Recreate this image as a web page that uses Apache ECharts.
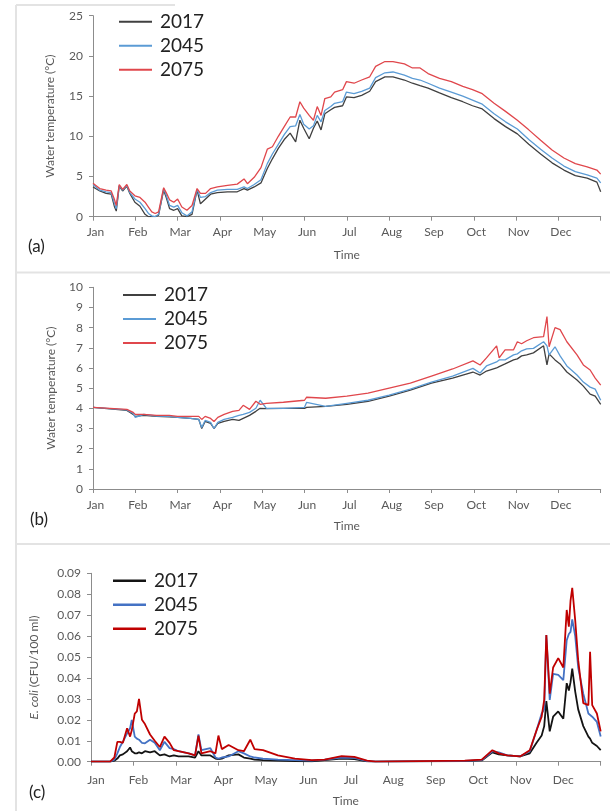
<!DOCTYPE html>
<html>
<head>
<meta charset="utf-8">
<script src="https://cdn.jsdelivr.net/npm/echarts@6/dist/echarts.min.js"></script>
<style>
html,body{margin:0;padding:0;background:#fff;}
#chart{width:610px;height:811px;}
</style>
</head>
<body>
<div id="chart"></div>
<script>
// ---------- DATA ----------
const months = ['Jan','Feb','Mar','Apr','May','Jun','Jul','Aug','Sep','Oct','Nov','Dec'];
const years = ['2017','2045','2075'];

// Panel (a): surface water temperature (°C); time in months since 1 Jan
const timeA = [0,0.16,0.31,0.43,0.51,0.55,0.62,0.7,0.8,0.87,
  0.99,1.11,1.23,1.31,1.39,1.47,1.55,1.67,1.73,1.81,
  1.91,2.0,2.1,2.22,2.34,2.46,2.54,2.66,2.78,2.94,
  3.18,3.41,3.57,3.65,3.81,3.97,4.12,4.24,4.38,4.52,
  4.66,4.79,4.89,4.98,5.11,5.21,5.3,5.39,5.48,5.62,
  5.71,5.9,5.99,6.17,6.35,6.54,6.68,6.9,7.09,7.36,
  7.55,7.73,7.92,8.19,8.47,8.74,8.97,9.2,9.48,9.75,
  10.03,10.3,10.58,10.85,11.13,11.4,11.68,11.91,12];
const a2017 = [3.7,3.2,2.9,2.8,1.2,0.7,3.8,3.2,3.8,2.9,
  1.8,1.3,0.3,0.0,0.0,0.0,0.2,3.3,2.4,1.0,
  0.8,1.0,0.1,0.0,0.3,3.3,1.6,2.2,2.8,3.0,
  3.1,3.1,3.5,3.3,3.7,4.2,6.0,7.2,8.5,9.6,
  10.4,9.3,12.0,11.0,9.7,11.0,11.9,10.8,12.8,13.3,
  13.6,13.8,14.9,14.8,15.1,15.6,16.8,17.4,17.4,17.0,
  16.6,16.3,16.0,15.4,14.8,14.3,13.8,13.4,12.2,11.2,
  10.3,9.0,7.8,6.7,5.8,5.1,4.8,4.3,3.1];
const a2045 = [4.0,3.3,3.1,3.0,1.6,1.0,3.9,3.3,3.9,3.0,
  2.2,1.8,1.0,0.4,0.1,0.0,0.3,3.5,2.7,1.4,
  1.2,1.4,0.5,0.1,0.6,3.4,2.4,2.5,3.0,3.3,
  3.4,3.4,3.7,3.5,4.0,4.6,6.6,7.8,9.0,10.2,
  11.2,11.3,12.7,11.5,10.9,11.3,12.6,11.8,13.2,13.7,
  14.1,14.3,15.5,15.3,15.6,16.0,17.3,17.9,18.0,17.6,
  17.2,17.0,16.6,16.0,15.5,15.0,14.5,14.0,12.8,11.8,
  10.9,9.6,8.4,7.3,6.3,5.6,5.2,4.8,4.2];
const a2075 = [4.15,3.5,3.3,3.2,2.1,1.4,4.0,3.4,4.0,3.2,
  2.6,2.4,1.8,1.2,0.6,0.4,0.6,3.6,3.0,2.1,
  1.8,2.2,1.2,0.8,1.4,3.5,2.9,2.9,3.5,3.7,
  3.9,4.05,4.7,4.1,4.9,6.1,8.4,8.7,10.0,11.2,
  12.4,12.4,14.3,13.5,12.6,12.0,13.7,12.6,14.7,14.9,
  15.5,15.8,16.8,16.6,17.0,17.4,18.7,19.3,19.3,19.0,
  18.5,18.5,17.8,17.2,16.8,16.2,15.8,15.3,14.1,13.1,
  12.0,10.8,9.5,8.3,7.3,6.6,6.2,5.8,5.3];

// Panel (b): bottom water temperature (°C)
const timeB = [0,0.4,0.8,0.95,1.0,1.2,1.5,1.8,2.0,2.3,
  2.5,2.57,2.65,2.78,2.86,2.95,3.1,3.3,3.45,3.55,
  3.7,3.85,3.95,4.1,4.5,5.0,5.05,5.5,6.0,6.5,
  7.0,7.5,8.0,8.5,8.98,9.15,9.3,9.54,9.6,9.74,
  9.94,10.03,10.13,10.25,10.41,10.65,10.73,10.78,10.92,11.04,
  11.2,11.44,11.59,11.75,11.87,12];
const b2017 = [4.05,3.97,3.9,3.7,3.6,3.65,3.6,3.58,3.55,3.5,
  3.45,3.0,3.35,3.25,3.0,3.25,3.35,3.45,3.4,3.5,
  3.65,3.85,4.0,3.98,4.0,4.0,4.05,4.1,4.2,4.35,
  4.6,4.9,5.25,5.5,5.8,5.65,5.85,6.0,6.07,6.2,
  6.4,6.45,6.6,6.65,6.75,7.1,6.15,6.7,6.4,6.2,
  5.8,5.4,5.1,4.7,4.6,4.2];
const b2045 = [4.05,3.98,3.92,3.75,3.55,3.7,3.62,3.6,3.55,3.5,
  3.45,3.05,3.4,3.3,3.0,3.3,3.45,3.55,3.65,3.7,
  3.8,4.0,4.4,4.0,4.0,4.05,4.3,4.1,4.25,4.4,
  4.65,4.95,5.3,5.6,5.98,5.75,6.1,6.3,6.4,6.4,
  6.65,6.7,6.85,6.95,6.97,7.3,7.1,6.65,7.05,6.6,
  6.1,5.65,5.3,5.05,4.95,4.4];
const b2075 = [4.05,4.0,3.95,3.8,3.7,3.7,3.65,3.65,3.6,3.6,
  3.6,3.45,3.6,3.5,3.35,3.55,3.7,3.85,3.9,4.15,
  3.95,4.35,4.2,4.25,4.3,4.4,4.55,4.5,4.6,4.75,
  5.0,5.25,5.6,5.95,6.35,6.15,6.5,7.1,6.5,6.9,
  6.9,7.3,7.2,7.35,7.5,7.55,8.55,7.05,8.0,7.9,
  7.3,6.65,6.15,5.9,5.5,5.15];

// Panel (c): E. coli (CFU/100 ml)
const timeC = [0,0.45,0.55,0.62,0.68,0.75,0.85,0.92,0.96,1.03,
  1.08,1.13,1.2,1.27,1.39,1.5,1.62,1.73,1.85,1.95,
  2.06,2.3,2.45,2.53,2.6,2.81,2.93,3.0,3.08,3.24,
  3.47,3.6,3.75,3.85,4.05,4.4,4.8,5.2,5.5,5.9,
  6.2,6.5,6.7,8.8,9.2,9.45,9.6,9.8,10.1,10.33,
  10.49,10.61,10.67,10.72,10.8,10.88,11.0,11.12,11.2,11.25,
  11.29,11.33,11.4,11.47,11.59,11.71,11.75,11.8,11.91,12];
const c2017 = [0,0,0.0005,0.0015,0.003,0.0035,0.005,0.0068,0.005,0.004,
  0.004,0.0045,0.004,0.005,0.0045,0.005,0.003,0.0035,0.0025,0.003,
  0.0025,0.0025,0.002,0.005,0.003,0.003,0.0015,0.0012,0.0015,0.003,
  0.0035,0.002,0.0015,0.001,0.0008,0.0005,0.0003,0.0002,0.0008,0.0015,
  0.0012,0.0002,0,0.0003,0.0006,0.0045,0.0035,0.003,0.0025,0.004,
  0.009,0.0125,0.017,0.029,0.0145,0.0215,0.024,0.0205,0.0375,0.034,
  0.038,0.0445,0.0335,0.025,0.017,0.012,0.011,0.009,0.0075,0.0055];
const c2045 = [0,0,0.001,0.004,0.007,0.0095,0.0135,0.016,0.020,0.012,
  0.011,0.0105,0.009,0.0088,0.0105,0.009,0.0055,0.0095,0.0065,0.006,
  0.005,0.004,0.003,0.013,0.0055,0.0065,0.002,0.0015,0.002,0.0025,
  0.005,0.004,0.0025,0.002,0.0015,0.001,0.0008,0.0005,0.001,0.002,
  0.0018,0.0003,0,0.0004,0.0008,0.005,0.0045,0.003,0.0025,0.005,
  0.015,0.023,0.025,0.0605,0.0295,0.042,0.0415,0.039,0.058,0.061,
  0.062,0.068,0.060,0.045,0.0325,0.023,0.0225,0.0215,0.019,0.012];
const c2075 = [0,0,0.002,0.0095,0.0095,0.009,0.016,0.012,0.015,0.023,
  0.024,0.030,0.020,0.018,0.013,0.010,0.007,0.012,0.009,0.0055,
  0.005,0.004,0.003,0.0125,0.004,0.005,0.004,0.0125,0.006,0.008,
  0.0055,0.005,0.0105,0.006,0.0055,0.003,0.0015,0.0008,0.001,0.0027,
  0.0023,0.0005,0,0.0005,0.001,0.0055,0.004,0.003,0.0025,0.0055,
  0.015,0.0215,0.0295,0.0605,0.0325,0.045,0.0495,0.045,0.0725,0.0645,
  0.077,0.083,0.0675,0.0485,0.028,0.027,0.0525,0.027,0.023,0.0145];

// ---------- CHART ----------
const FONT = 'Lato, "Noto Sans", sans-serif';
const AX = '#8c8c8c';
const LBL = '#595959';

function pairs(t, v){ return t.map((x,i)=>[x, v[i]]); }

function xAxis(gi, margin, gap, pad){
  return {
    type:'value', gridIndex:gi, min:0, max:12, interval:1,
    axisLine:{show:true, onZero:false, lineStyle:{color:AX, width:1}},
    axisTick:{show:true, length:4, lineStyle:{color:AX}},
    splitLine:{show:false},
    axisLabel:{formatter:v=>months[v]||'', color:LBL, fontSize:12, fontFamily:FONT, margin:margin, padding:[0,0,0,pad], showMaxLabel:true},
    name:'Time', nameLocation:'middle', nameGap:gap,
    nameTextStyle:{color:LBL, fontSize:12, fontFamily:FONT}
  };
}
function yAxis(gi, max, interval, name, gap, fmt, rich){
  return {
    type:'value', gridIndex:gi, min:0, max:max, interval:interval,
    axisLine:{show:true, lineStyle:{color:AX, width:1}},
    axisTick:{show:true, length:4, lineStyle:{color:AX}},
    splitLine:{show:false},
    axisLabel:{color:LBL, fontSize:12, fontFamily:FONT, margin:10, formatter:fmt},
    name:name, nameLocation:'middle', nameGap:gap, nameRotate:90,
    nameTextStyle:Object.assign({color:LBL, fontSize:12, fontFamily:FONT}, rich?{rich:rich}:{})
  };
}

const colsAB = ['#404040','#5B9BD5','#E0474C'];
const colsC = ['#141414','#4472C4','#C00000'];

function lineSeries(name, gi, t, v, color, w){
  return {type:'line', name:name, xAxisIndex:gi, yAxisIndex:gi, data:pairs(t,v),
    showSymbol:false, symbol:'none', color:color, lineStyle:{color:color, width:w}, animation:false, z:3};
}

function legend(prefix, left, top, h){
  return {data:years.map(y=>prefix+y), left:left, top:top, orient:'vertical', icon:'rect',
    itemWidth:33, itemHeight:h, itemGap:4, padding:0, selectedMode:false,
    formatter:n=>n.slice(1),
    textStyle:{fontSize:19, lineHeight:20, color:'#222', fontFamily:FONT, padding:[0,0,0,3]}};
}

const chart = echarts.init(document.getElementById('chart'), null, {renderer:'canvas'});
chart.setOption({
  backgroundColor:'#fff',
  animation:false,
  grid:[
    {left:93, right:9.3, top:15.7, height:201},
    {left:93, right:9.3, top:287.3, height:201.7},
    {left:91, right:9.3, top:573.3, height:188.4}
  ],
  xAxis:[xAxis(0,9,32,5), xAxis(1,10,31,5), xAxis(2,12,33,10)],
  yAxis:[
    yAxis(0,25,5,'Water temperature (\u00B0C)',37),
    yAxis(1,10,1,'Water temperature (\u00B0C)',36),
    yAxis(2,0.09,0.01,'{i|E. coli} (CFU/100 ml)',51, v=>v.toFixed(2), {i:{fontStyle:'italic', color:LBL, fontSize:12, fontFamily:FONT}})
  ],
  legend:[legend('a',119,11.7,2), legend('b',123,285,2), legend('c',113,570.7,2.5)],
  title:[
    {text:'(a)', left:28, top:238, padding:0, textStyle:{fontSize:17, fontWeight:'normal', color:'#222', fontFamily:FONT}},
    {text:'(b)', left:30, top:511, padding:0, textStyle:{fontSize:17, fontWeight:'normal', color:'#222', fontFamily:FONT}},
    {text:'(c)', left:29, top:784, padding:0, textStyle:{fontSize:17, fontWeight:'normal', color:'#222', fontFamily:FONT}}
  ],
  graphic:[
    {type:'line', shape:{x1:16,y1:5,x2:175,y2:5}, style:{stroke:'#e3e3e3', lineWidth:2}, silent:true},
    {type:'line', shape:{x1:16,y1:5,x2:16,y2:811}, style:{stroke:'#e3e3e3', lineWidth:2}, silent:true},
    {type:'line', shape:{x1:16,y1:272.5,x2:610,y2:272.5}, style:{stroke:'#e3e3e3', lineWidth:2}, silent:true},
    {type:'line', shape:{x1:16,y1:544,x2:610,y2:544}, style:{stroke:'#e3e3e3', lineWidth:2}, silent:true}
  ],
  series:[
    lineSeries('a2017',0,timeA,a2017,colsAB[0],1.3),
    lineSeries('a2045',0,timeA,a2045,colsAB[1],1.3),
    lineSeries('a2075',0,timeA,a2075,colsAB[2],1.3),
    lineSeries('b2017',1,timeB,b2017,colsAB[0],1.3),
    lineSeries('b2045',1,timeB,b2045,colsAB[1],1.3),
    lineSeries('b2075',1,timeB,b2075,colsAB[2],1.3),
    lineSeries('c2017',2,timeC,c2017,colsC[0],1.8),
    lineSeries('c2045',2,timeC,c2045,colsC[1],1.8),
    lineSeries('c2075',2,timeC,c2075,colsC[2],1.8)
  ]
});
</script>
</body>
</html>
